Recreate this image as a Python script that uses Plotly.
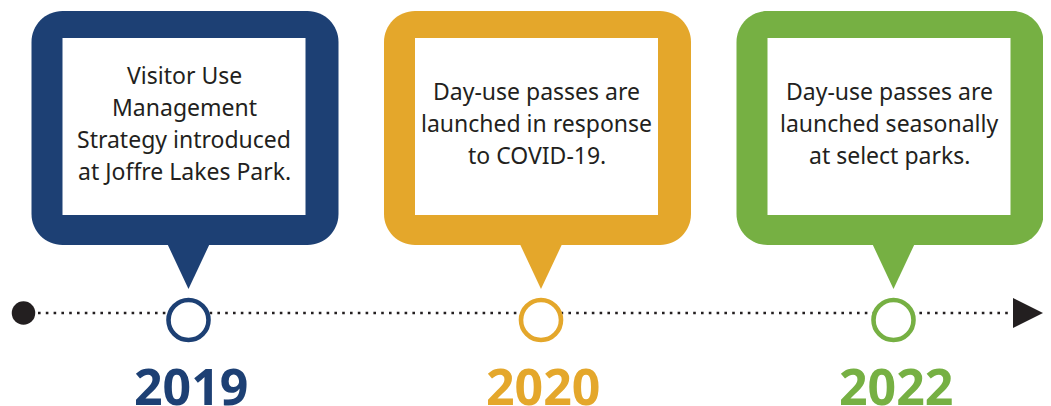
import plotly.graph_objects as go

# ---- data ----
years = ["2019", "2020", "2022"]
descriptions = [
    ["Visitor Use", "Management", "Strategy introduced", "at Joffre Lakes Park."],
    ["Day-use passes are", "launched in response", "to COVID-19."],
    ["Day-use passes are", "launched seasonally", "at select parks."],
]
colors = ["#1d4074", "#e4a72b", "#76b043"]
dark = "#231f20"

# ---- layout constants (window pixel space) ----
W, H = 1051, 406
PAGE_MARGIN = 8          # default body margin of the html page
X0, STEP = 188.5, 352.5
LINE_Y = 313
CIRCLE_Y = 320
cx = [X0 + i * STEP for i in range(len(years))]

def rounded_rect(x0, y0, x1, y1, r):
    k = 0.5523 * r
    return (f"M {x0+r},{y0} L {x1-r},{y0} C {x1-r+k},{y0} {x1},{y0+r-k} {x1},{y0+r} "
            f"L {x1},{y1-r} C {x1},{y1-r+k} {x1-r+k},{y1} {x1-r},{y1} "
            f"L {x0+r},{y1} C {x0+r-k},{y1} {x0},{y1-r+k} {x0},{y1-r} "
            f"L {x0},{y0+r} C {x0},{y0+r-k} {x0+r-k},{y0} {x0+r},{y0} Z")

fig = go.Figure()
shapes = []
annotations = []

# dotted timeline
shapes.append(dict(type="line", x0=38, x1=1013, y0=LINE_Y, y1=LINE_Y, xref="x", yref="y",
                   line=dict(color=dark, width=2.6, dash="2.6px,5.2px"), layer="below"))
# arrow head
shapes.append(dict(type="path", xref="x", yref="y",
                   path=f"M 1013,{LINE_Y-15} L 1043,{LINE_Y} L 1013,{LINE_Y+15} Z",
                   fillcolor=dark, line=dict(width=0)))

for i, (c, col, lines, yr) in enumerate(zip(cx, colors, descriptions, years)):
    # callout box
    shapes.append(dict(type="path", xref="x", yref="y",
                       path=rounded_rect(c - 157, 11, c + 150, 245, 31),
                       fillcolor=col, line=dict(width=0)))
    # tail
    shapes.append(dict(type="path", xref="x", yref="y",
                       path=f"M {c-23},240 L {c+23},240 L {c},289 Z",
                       fillcolor=col, line=dict(width=0)))
    # inner white panel
    shapes.append(dict(type="rect", xref="x", yref="y",
                       x0=c - 126, x1=c + 117, y0=38, y1=215,
                       fillcolor="white", line=dict(width=0)))
    n = len(lines)
    for k, txt in enumerate(lines):
        base = 132 + (k - (n - 1) / 2) * 32
        annotations.append(dict(x=c - 4.5, y=base - 9, xref="x", yref="y", text=txt,
                                showarrow=False, xanchor="center", yanchor="middle",
                                font=dict(family="Noto Sans", size=23, color=dark)))
    annotations.append(dict(x=c + 2, y=386, xref="x", yref="y", text=f"<b>{yr}</b>",
                            showarrow=False, xanchor="center", yanchor="middle",
                            font=dict(family="Noto Sans", size=50, color=col)))

# start dot
fig.add_trace(go.Scatter(x=[23.5], y=[LINE_Y], mode="markers", hoverinfo="skip",
                         marker=dict(size=23.5, color=dark, line=dict(width=0))))
# year circles
fig.add_trace(go.Scatter(x=cx, y=[CIRCLE_Y] * len(cx), mode="markers", text=years,
                         hoverinfo="text",
                         marker=dict(size=40, color="white",
                                     line=dict(width=4.6, color=colors))))

fig.update_layout(
    width=W - PAGE_MARGIN, height=H - PAGE_MARGIN,
    margin=dict(l=0, r=0, t=0, b=0, pad=0),
    paper_bgcolor="white", plot_bgcolor="white", showlegend=False,
    xaxis=dict(range=[PAGE_MARGIN, W], visible=False, fixedrange=True),
    yaxis=dict(range=[H, PAGE_MARGIN], visible=False, fixedrange=True),
    shapes=shapes, annotations=annotations,
)
fig.write_html("out.html", config={"displayModeBar": False})
